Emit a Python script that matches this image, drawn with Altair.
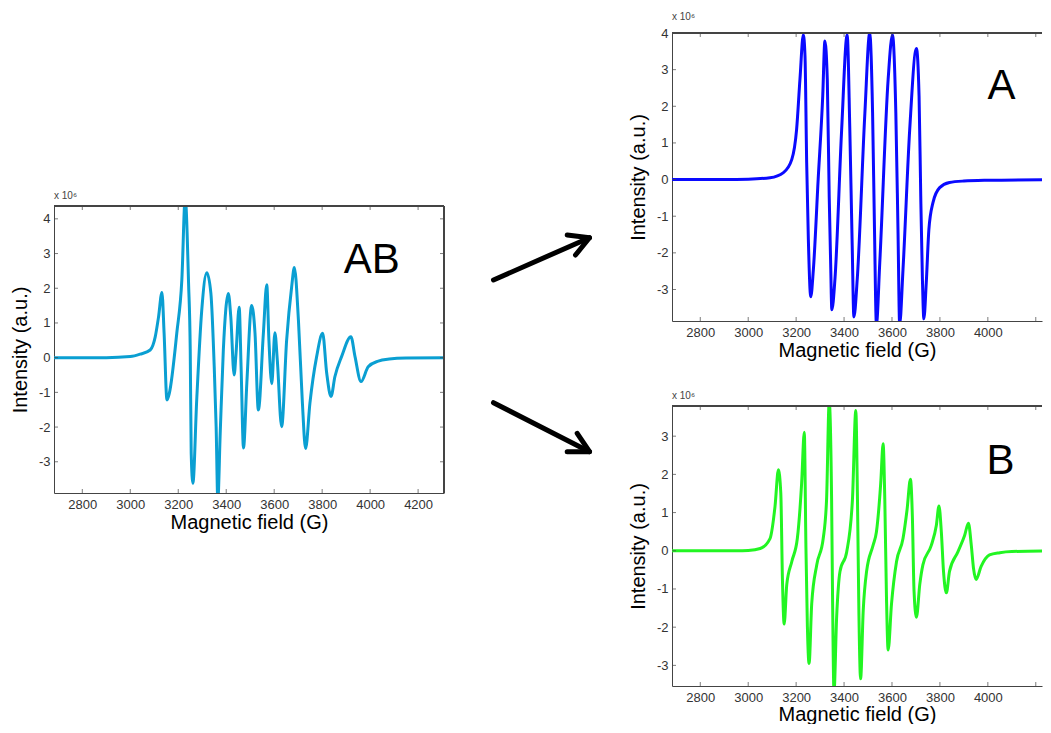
import altair as alt
import pandas as pd

# ---------------- data ----------------
ab_field = [2682, 2900, 3000, 3041, 3083, 3104, 3118, 3132, 3141, 3153, 3163, 3194, 3215, 3229, 3243, 3250,
            3254, 3261, 3277, 3298, 3319, 3336, 3350, 3358, 3365, 3375, 3388, 3409, 3419, 3433, 3441, 3454,
            3462, 3472, 3486, 3506, 3520, 3534, 3555, 3569, 3578, 3590, 3603, 3613, 3631, 3652, 3673, 3684,
            3701, 3717, 3731, 3749, 3777, 3802, 3819, 3837, 3853, 3881, 3920, 3937, 3962, 3992, 4034, 4080,
            4150, 4308]
ab_int = [0, 0, 0.03, 0.1, 0.22, 0.6, 1.18, 1.88, 0.71, -1.22, -1.02, 0.71, 2.24, 4.6, 2.15, 0.22,
          -2.75, -3.62, -1.22, 1.37, 2.45, 1.86, -0.26, -1.99, -4.1, -2.17, 0.22, 1.85, 1.18, -0.5, 0.13, 1.45,
          -0.26, -2.6, -0.73, 1.5, 0.71, -1.51, 0.71, 2.1, 0.51, -0.75, 0.72, -0.07, -1.99, 0.51, 2.05, 2.6,
          1.09, -1.22, -2.62, -1.31, 0.03, 0.70, -0.45, -1.12, -0.55, 0.03, 0.6, 0.03, -0.69, -0.26, -0.1, -0.04,
          -0.01, 0]

a_field = [2682, 2900, 3000, 3091, 3147, 3182, 3202, 3216, 3230, 3237, 3244, 3251, 3261, 3272, 3292, 3311,
           3320, 3330, 3338, 3344, 3349, 3362, 3390, 3413, 3424, 3434, 3441, 3455, 3487, 3507, 3519, 3527,
           3535, 3549, 3584, 3602, 3616, 3625, 3632, 3646, 3674, 3702, 3713, 3720, 3727, 3733, 3743, 3754,
           3771, 3799, 3840, 3900, 4000, 4308]
a_int = [0, 0, 0.01, 0.05, 0.19, 0.55, 1.37, 2.74, 3.95, 3.38, 0.46, -1.63, -3.2, -2.45, 0.01, 2.28,
         3.78, 2.74, -0.45, -2.27, -3.55, -2.72, 1.37, 3.95, 1.37, -1.81, -3.75, -2.72, 1.83, 4.0, 1.83, -1.36,
         -3.95, -2.27, 2.74, 3.95, 1.83, -1.36, -3.95, -2.45, 1.37, 3.58, 2.28, -0.45, -2.72, -3.8, -2.82, -1.36,
         -0.63, -0.22, -0.08, -0.04, -0.02, 0]

b_field = [2682, 2950, 3000, 3050, 3091, 3112, 3126, 3136, 3143, 3150, 3161, 3182, 3205, 3223, 3234, 3241,
           3247, 3254, 3265, 3286, 3313, 3327, 3338, 3348, 3352, 3358, 3369, 3383, 3411, 3435, 3449, 3456,
           3462, 3469, 3480, 3494, 3521, 3535, 3553, 3563, 3570, 3577, 3584, 3598, 3619, 3646, 3663, 3677,
           3685, 3692, 3702, 3716, 3729, 3764, 3785, 3796, 3806, 3815, 3827, 3840, 3875, 3903, 3919, 3931,
           3940, 3951, 3972, 4007, 4050, 4100, 4308]
b_int = [0, 0, 0.01, 0.06, 0.32, 1.17, 2.12, 1.51, -0.79, -1.92, -0.88, -0.28, 0.32, 1.77, 3.1, 0.06,
         -1.99, -2.95, -1.39, -0.37, 0.32, 1.34, 3.9, 1.34, -1.22, -3.7, -1.74, -0.54, -0.03, 1.34, 3.67, 1.34,
         -1.65, -3.35, -1.56, -0.54, 0.14, 0.49, 1.77, 2.8, 1.34, -1.22, -2.6, -1.39, -0.28, 0.32, 1.08, 1.87,
         0.91, -1.05, -1.74, -0.88, -0.37, 0.14, 0.66, 1.17, 0.49, -0.54, -1.1, -0.54, -0.03, 0.4, 0.72, 0.14,
         -0.45, -0.75, -0.41, -0.11, -0.05, -0.02, 0]

x_ticks = [2800, 3000, 3200, 3400, 3600, 3800, 4000, 4200]
x_labels_full = [2800, 3000, 3200, 3400, 3600, 3800, 4000, 4200]
x_labels_cut = [2800, 3000, 3200, 3400, 3600, 3800, 4000]
ab_y_ticks = [-3, -2, -1, 0, 1, 2, 3, 4]
a_y_ticks = [-3, -2, -1, 0, 1, 2, 3, 4]
b_y_ticks = [-3, -2, -1, 0, 1, 2, 3]

ab_x_domain = [2682, 4308]
cut_x_domain = [2682, 4226]
ab_y_domain = [-3.9, 4.37]
a_y_domain = [-3.86, 4.0]
b_y_domain = [-3.54, 3.79]

panel_labels = ["AB", "A", "B"]
label_field = [4007, 4057, 4053]
label_int = [2.44, 2.19, 2.0]

# arrows (annotation, in page-pixel units of the arrow panel)
arrow_x = [493, 589, 566.7, 589, 575, 493, 589, 566.7, 589, 576.7]
arrow_y = [280, 237.7, 235, 237.7, 255, 402.7, 451.7, 451.7, 451.7, 433.3]
arrow_seg = [0, 0, 1, 1, 1, 2, 2, 3, 3, 3]
arrow_ord = [0, 1, 0, 1, 2, 0, 1, 0, 1, 2]

FONT = "Liberation Sans"
FRAME = "#444444"


def panel(field, inten, color, xdom, ydom, yticks, xlabels, li, w, h, full_box, xtitle_pad):
    df = pd.DataFrame({"G": field, "I": inten})
    xs = alt.Scale(domain=xdom, nice=False, zero=False)
    ys = alt.Scale(domain=ydom, nice=False, zero=False)
    xa = alt.Axis(values=xlabels, title="Magnetic field (G)",
                  labelExpr="'' + datum.value", labelPadding=5, titlePadding=xtitle_pad)
    ya = alt.Axis(values=yticks, title="Intensity (a.u.)",
                  labelExpr="'' + datum.value", labelPadding=4, titlePadding=8)
    line = alt.Chart(df).mark_line(color=color, strokeWidth=3, clip=True,
                                   interpolate="monotone").encode(
        x=alt.X("G:Q", scale=xs, axis=xa),
        y=alt.Y("I:Q", scale=ys, axis=ya),
    )
    xt = pd.DataFrame({"t": x_ticks})
    yt = pd.DataFrame({"t": yticks})
    bt = alt.Chart(xt).mark_tick(orient="vertical", size=4, thickness=1, yOffset=-2, color=FRAME, clip=True).encode(
        x=alt.X("t:Q", scale=xs, axis=xa), y=alt.YDatum(datum=ydom[0], scale=ys, axis=ya))
    tt = alt.Chart(xt).mark_tick(orient="vertical", size=4, thickness=1, yOffset=2, color=FRAME, clip=True).encode(
        x=alt.X("t:Q", scale=xs, axis=xa), y=alt.YDatum(datum=ydom[1], scale=ys, axis=ya))
    lt = alt.Chart(yt).mark_tick(orient="horizontal", size=4, thickness=1, xOffset=2, color=FRAME).encode(
        y=alt.Y("t:Q", scale=ys, axis=ya), x=alt.XDatum(datum=xdom[0], scale=xs, axis=xa))
    top_rule = alt.Chart(xt).mark_rule(color=FRAME, strokeWidth=1).encode(
        y=alt.YDatum(datum=ydom[1], scale=ys, axis=ya))
    ldf = pd.DataFrame({"t": [panel_labels[li]], "G": [label_field[li]], "I": [label_int[li]]})
    lab = alt.Chart(ldf).mark_text(fontSize=42, font=FONT, align="center", baseline="alphabetic",
                                   color="black").encode(
        x=alt.X("G:Q", scale=xs, axis=xa), y=alt.Y("I:Q", scale=ys, axis=ya), text="t:N")
    layers = [line, bt, tt, lt, top_rule, lab]
    if full_box:
        rt = alt.Chart(yt).mark_tick(orient="horizontal", size=4, thickness=1, xOffset=-2, color=FRAME).encode(
            y=alt.Y("t:Q", scale=ys, axis=ya), x=alt.XDatum(datum=xdom[1], scale=xs, axis=xa))
        right_rule = alt.Chart(xt).mark_rule(color=FRAME, strokeWidth=1).encode(
            x=alt.XDatum(datum=xdom[1], scale=xs, axis=xa))
        layers += [rt, right_rule]
    return alt.layer(*layers).properties(
        width=w, height=h,
        title=alt.TitleParams("x 10\u2076", anchor="start", frame="group", fontSize=10,
                              fontWeight="normal", color="#444444", offset=5, font=FONT))


ab = panel(ab_field, ab_int, "#0a9fd2", ab_x_domain, ab_y_domain, ab_y_ticks, x_labels_full, 0, 390, 287, True, 1)
pa = panel(a_field, a_int, "#0a0aff", cut_x_domain, a_y_domain, a_y_ticks, x_labels_cut, 1, 370, 288, False, 1)
pb = panel(b_field, b_int, "#22f522", cut_x_domain, b_y_domain, b_y_ticks, x_labels_cut, 2, 370, 280, False, 0)

spacer = alt.Chart(pd.DataFrame({"v": [0]})).mark_point(opacity=0).encode(
    x=alt.X("v:Q", axis=None), y=alt.Y("v:Q", axis=None)).properties(width=10, height=157)

adf = pd.DataFrame({"x": arrow_x, "y": arrow_y, "seg": arrow_seg, "ord": arrow_ord})
arrows = alt.Chart(adf).mark_line(color="black", strokeWidth=5, strokeCap="round",
                                  strokeJoin="round").encode(
    x=alt.X("x:Q", scale=alt.Scale(domain=[444.5, 627.5], nice=False, zero=False), axis=None),
    y=alt.Y("y:Q", scale=alt.Scale(domain=[700, 33], nice=False, zero=False), axis=None),
    detail="seg:N", order="ord:Q").properties(width=183, height=667)

left_col = alt.vconcat(spacer, ab, spacing=0)
right_col = alt.vconcat(pa, pb, spacing=30)

chart = alt.hconcat(left_col, arrows, right_col, spacing=0).properties(
    padding={"left": 2, "top": 4, "right": 0, "bottom": 0},
    background="white",
).configure_view(stroke=None).configure_axis(
    labelFont=FONT, labelFontSize=13, labelColor="#333333",
    titleFont=FONT, titleFontSize=20, titleFontWeight="normal", titleColor="black",
    domainColor=FRAME, domainWidth=1, ticks=False, tickSize=0, grid=False,
)

chart.save("out.html", embed_options={"renderer": "svg", "actions": False})
